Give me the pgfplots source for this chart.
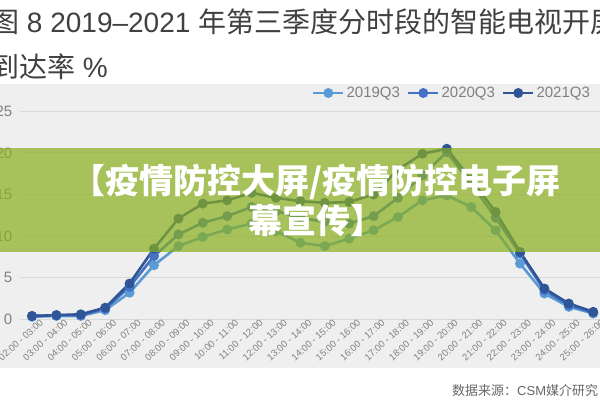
\documentclass[border=0pt]{standalone}
\usepackage{pgfplots}
\pgfplotsset{compat=1.18}
\usepackage{pgfplotstable}
\usepackage{fontspec}
\setmainfont{Liberation Sans}
\newfontfamily\cjk{Noto Sans CJK SC}
\definecolor{cA}{HTML}{5B9BD5}
\definecolor{cB}{HTML}{4472C4}
\definecolor{cC}{HTML}{2F5597}
\definecolor{bg}{HTML}{EFEFEF}
\definecolor{gridc}{HTML}{D9D9D9}
\definecolor{lab}{HTML}{808080}
\definecolor{titlec}{HTML}{404040}
\definecolor{banner}{RGB}{138,176,29}
\pgfplotstableread{
i y19 y20 y21
0 0.3 0.4 0.4
1 0.4 0.5 0.5
2 0.4 0.5 0.6
3 1.1 1.3 1.4
4 3.2 3.9 4.3
5 6.5 7.6 8.5
6 8.8 10.2 12.1
7 9.9 11.6 13.9
8 10.8 12.4 14.3
9 11.5 13.5 15.2
10 10.6 13.0 14.6
11 9.2 12.2 14.2
12 8.8 11.7 14.0
13 9.7 11.5 14.1
14 10.7 12.4 15.0
15 12.3 14.6 18.0
16 14.3 17.3 19.9
17 14.9 20.1 20.5
18 13.5 16.3 16.8
19 10.7 12.2 12.9
20 6.7 7.9 8.1
21 3.1 3.5 3.7
22 1.5 1.7 1.9
23 0.7 0.8 0.9
}\data
\begin{document}
\begin{tikzpicture}[x=1bp,y=1bp]
\useasboundingbox (0,0) rectangle (600,400);
\clip (0,0) rectangle (600,400);
\fill[white] (0,0) rectangle (600,400);
\fill[bg] (0,32) rectangle (600,316);
\begin{axis}[
  at={(19.8bp,80.7bp)}, anchor=south west,
  scale only axis, width=585.6bp, height=208bp,
  xmin=-0.5, xmax=23.5, ymin=0, ymax=25,
  clip=false,
  xtick={0,...,23},
  xticklabels={02:00 - 03:00,03:00 - 04:00,04:00 - 05:00,05:00 - 06:00,06:00 - 07:00,07:00 - 08:00,08:00 - 09:00,09:00 - 10:00,10:00 - 11:00,11:00 - 12:00,12:00 - 13:00,13:00 - 14:00,14:00 - 15:00,15:00 - 16:00,16:00 - 17:00,17:00 - 18:00,18:00 - 19:00,19:00 - 20:00,20:00 - 21:00,21:00 - 22:00,22:00 - 23:00,23:00 - 24:00,24:00 - 25:00,25:00 - 26:00},
  ytick={0,5,10,15,20,25},
  axis line style={draw=none},
  major tick length=0pt,
  ymajorgrids, grid style={gridc, line width=0.9bp},
  /pgf/number format/assume math mode=true,
  tick label style={text=lab},
  yticklabel style={font=\fontsize{15bp}{15bp}\selectfont, xshift=-4bp},
  xticklabel style={font=\fontsize{9.5bp}{11bp}\selectfont, rotate=42, anchor=east, inner sep=0pt, xshift=6bp, yshift=-8bp},
  legend style={at={(0.738,1.088)}, anchor=center, draw=none, fill=none,
    font=\fontsize{15bp}{15bp}\selectfont, text=lab,
    /tikz/every even column/.append style={column sep=5bp}},
  legend columns=3,
  legend image code/.code={\draw[mark repeat=2,mark phase=2] plot coordinates {(0bp,0bp) (15bp,0bp) (30bp,0bp)};},
  every axis plot/.append style={line width=2.6bp, mark=*, mark size=3.6bp},
]
\addplot[cA, mark options={fill=cA, draw=cA}] table[x=i, y=y19] {\data};
\addlegendentry{2019Q3}
\addplot[cB, mark options={fill=cB, draw=cB}] table[x=i, y=y20] {\data};
\addlegendentry{2020Q3}
\addplot[cC, mark options={fill=cC, draw=cC}] table[x=i, y=y21] {\data};
\addlegendentry{2021Q3}
\end{axis}
\fill[banner, fill opacity=0.7] (0,148) rectangle (600,252);
\node[text=white, font=\cjk\bfseries\fontsize{34bp}{40bp}\selectfont, align=center] at (316,200) {【疫情防控大屏/疫情防控电子屏\\幕宣传】};
\node[anchor=base west, inner sep=0pt, font=\fontsize{28bp}{28bp}\selectfont, text=titlec] at (-9,367.4) {{\cjk 图} 8 2019–2021 {\cjk 年第三季度分时段的智能电视开屏}};
\node[anchor=base west, inner sep=0pt, font=\fontsize{28bp}{28bp}\selectfont, text=titlec] at (-9,322.4) {{\cjk 到达率} \%};
\node[anchor=west, inner sep=0pt, font=\cjk\fontsize{13bp}{13bp}\selectfont, text=lab!80!black] at (452,9) {数据来源：{\rmfamily CSM}媒介研究};
\end{tikzpicture}
\end{document}
